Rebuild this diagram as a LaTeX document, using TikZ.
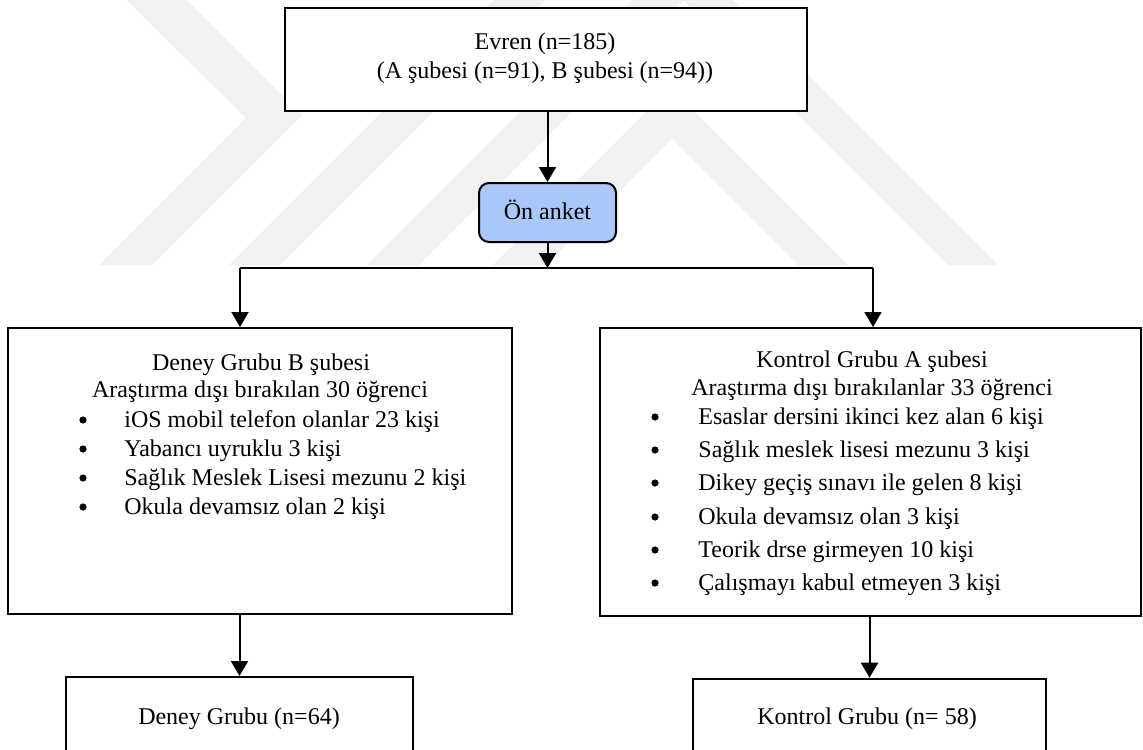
\documentclass[tikz,border=0pt]{standalone}
\usepackage{fontspec}
\setmainfont{Liberation Serif}
\usetikzlibrary{arrows.meta}
\definecolor{wm}{RGB}{241,241,241}
\definecolor{onblue}{RGB}{170,199,250}
\begin{document}
\begin{tikzpicture}[x=0.5pt,y=-0.5pt,
  box/.style={draw,line width=1pt,fill=white,inner sep=0pt},
  txt/.style={font=\fontsize{12pt}{14pt}\selectfont,inner sep=0pt},
  dot/.style={circle,fill=black,inner sep=0pt,minimum size=3.6pt},
  arr/.style={line width=1pt,-{Triangle[width=8.5pt,length=7.5pt]}},
  wmark/.style={fill=wm,draw=none}]
\useasboundingbox (0,0) rectangle (1143,749);
\clip (0,0) rectangle (1143,749);
% watermark
\fill[wmark] (127,0) -- (187,0) -- (302,115) -- (152,265) -- (99,265) -- (246,118) -- cycle;
\fill[wmark] (494,0) -- (545,0) -- (280,265) -- (229,265) -- cycle;
\fill[wmark] (632,0) -- (733,0) -- (998,265) -- (948,265) -- (683.5,0.5) -- (419,265) -- (367,265) -- cycle;
\fill[wmark] (670.5,87.5) -- (848,265) -- (798,265) -- (672,139) -- (546,265) -- (493,265) -- cycle;
% top box
\node[box,minimum width=261pt,minimum height=51.5pt] (evren) at (546,59.5) {};
\node[txt,anchor=base] (evrenA) at (545,50) {Evren (n=185)};
\node[txt,anchor=base] (evrenB) at (545,79) {(A şubesi (n=91), B şubesi (n=94))};
% on anket
\node[box,fill=onblue,rounded corners=5pt,minimum width=68.5pt,minimum height=29.5pt] (on) at (547.5,212.5) {};
\node[txt,anchor=base] (ontext) at (547.5,219) {Ön anket};
% left box
\node[box,minimum width=252pt,minimum height=143pt] (lbox) at (260,471) {};
\node[txt,anchor=base] (lt1) at (261,370) {Deney Grubu B şubesi};
\node[txt,anchor=base] (lt2) at (260,397) {Araştırma dışı bırakılan 30 öğrenci};
\node[dot] (lb1) at (83,420) {};
\node[txt,anchor=base west] (li1) at (124,427) {iOS mobil telefon olanlar 23 kişi};
\node[dot] (lb2) at (83,449) {};
\node[txt,anchor=base west] (li2) at (124,456) {Yabancı uyruklu 3 kişi};
\node[dot] (lb3) at (83,478) {};
\node[txt,anchor=base west] (li3) at (124,485) {Sağlık Meslek Lisesi mezunu 2 kişi};
\node[dot] (lb4) at (83,507) {};
\node[txt,anchor=base west] (li4) at (124,514) {Okula devamsız olan 2 kişi};
% right box
\node[box,minimum width=270.5pt,minimum height=144pt] (rbox) at (870.5,472) {};
\node[txt,anchor=base] (rt1) at (872,367) {Kontrol Grubu A şubesi};
\node[txt,anchor=base] (rt2) at (872,395) {Araştırma dışı bırakılanlar 33 öğrenci};
\node[dot] (rb1) at (655,417) {};
\node[txt,anchor=base west] (ri1) at (698,424) {Esaslar dersini ikinci kez alan 6 kişi};
\node[dot] (rb2) at (655,450) {};
\node[txt,anchor=base west] (ri2) at (698,457) {Sağlık meslek lisesi mezunu 3 kişi};
\node[dot] (rb3) at (655,483) {};
\node[txt,anchor=base west] (ri3) at (698,490) {Dikey geçiş sınavı ile gelen 8 kişi};
\node[dot] (rb4) at (655,517) {};
\node[txt,anchor=base west] (ri4) at (698,524) {Okula devamsız olan 3 kişi};
\node[dot] (rb5) at (655,550) {};
\node[txt,anchor=base west] (ri5) at (698,557) {Teorik drse girmeyen 10 kişi};
\node[dot] (rb6) at (655,583) {};
\node[txt,anchor=base west] (ri6) at (698,590) {Çalışmayı kabul etmeyen 3 kişi};
% bottom boxes
\node[box,minimum width=173.5pt,minimum height=61.5pt] (dg) at (239.5,738.5) {};
\node[txt,anchor=base] (dgtext) at (239,724) {Deney Grubu (n=64)};
\node[box,line width=1.3pt,minimum width=176.5pt,minimum height=60.5pt] (kg) at (869.5,739.5) {};
\node[txt,anchor=base] (kgtext) at (867,724) {Kontrol Grubu (n= 58)};
% connectors
\coordinate (j) at (547.5,268);
\coordinate (jl) at (240,268);
\coordinate (jr) at (873,268);
\draw[arr] (evren.south -| on.north) -- (on.north);
\draw[arr] (on.south) -- (j);
\draw[line width=1pt] (jl) -- (jr);
\draw[arr] (jl) -- (jl |- lbox.north);
\draw[arr] (jr) -- (jr |- rbox.north);
\draw[arr] (lbox.south -| dg.north) -- (dg.north);
\draw[arr] (rbox.south -| kg.north) -- (kg.north);
\end{tikzpicture}
\end{document}
